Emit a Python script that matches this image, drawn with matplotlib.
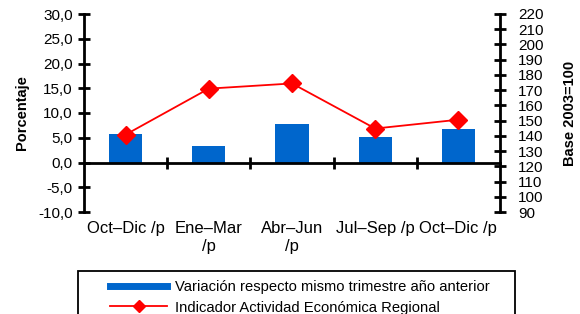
import matplotlib
matplotlib.use("Agg")
import matplotlib.pyplot as plt
from matplotlib.lines import Line2D
from matplotlib.patches import Rectangle
import numpy as np

plt.rcParams['font.family'] = ['Liberation Sans', 'DejaVu Sans']

categories = ["Oct\u2013Dic /p", "Ene\u2013Mar\n/p", "Abr\u2013Jun\n/p", "Jul\u2013Sep /p", "Oct\u2013Dic /p"]
variacion = [5.8, 3.4, 7.8, 5.2, 6.8]
indicador = [140.8, 171.0, 174.4, 144.8, 150.6]
left_ticks = [-10, -5, 0, 5, 10, 15, 20, 25, 30]
right_ticks = list(range(90, 221, 10))

W, H = 580, 314
fig = plt.figure(figsize=(W / 100, H / 100), dpi=100)
ax = fig.add_axes([84 / W, 1 - 212 / H, (500 - 84) / W, (212 - 14) / H])
x = np.arange(len(categories))

blue = '#0066CC'
red = '#FF0000'
ax.bar(x, variacion, width=0.4, color=blue, zorder=2)
ax.set_xlim(-0.5, len(categories) - 0.5)
ax.set_ylim(-10, 30)
ax.set_yticks(left_ticks)
ax.set_yticklabels([f"{v:.1f}".replace('.', ',') for v in left_ticks], fontsize=11)
ax.spines['top'].set_visible(False)
ax.spines['right'].set_visible(False)
ax.spines['left'].set_linewidth(2)
ax.spines['bottom'].set_position(('data', 0))
ax.spines['bottom'].set_linewidth(2)
ax.set_xticks(np.arange(0.5, len(categories) - 1, 1.0))
ax.set_xticklabels([])
ax.tick_params(axis='x', direction='inout', length=8, width=2)
ax.tick_params(axis='y', direction='inout', length=8, width=2, pad=4)
ax.set_ylabel('Porcentaje', fontsize=10.5, fontweight='bold', labelpad=7)
ax.patch.set_alpha(0)

for xi, lab in zip(x, categories):
    ax.text(xi, -11.8, lab, ha='center', va='top', fontsize=12,
            transform=ax.transData, linespacing=1.25)

ax2 = ax.twinx()
ax2.plot(x, indicador, color=red, lw=1.3, marker='D', markersize=9, zorder=3)
ax2.set_ylim(90, 220)
ax2.set_yticks(right_ticks)
ax2.set_yticklabels([str(v) for v in right_ticks], fontsize=11)
for s in ['top', 'left', 'bottom']:
    ax2.spines[s].set_visible(False)
ax2.spines['right'].set_linewidth(2)
ax2.tick_params(axis='y', direction='inout', length=8, width=2, pad=9)
ax2.set_ylabel('Base 2003=100', fontsize=10.5, fontweight='bold', labelpad=14)

handles = [Line2D([], [], color=blue, lw=5),
           Line2D([], [], color=red, lw=1.3, marker='D', markersize=6)]
labels = ['Variación respecto mismo trimestre año anterior',
          'Indicador Actividad Económica Regional']
fig.legend(handles, labels, loc='upper left', bbox_to_anchor=(110 / W, 1 - 280 / H),
           frameon=False, fontsize=10.6, handlelength=3.9, handletextpad=0.5,
           labelspacing=0.45, borderaxespad=0, borderpad=0)
fig.patches.append(Rectangle((78 / W, -0.2), (515 - 78) / W, 0.2 + (314 - 271) / H,
                             transform=fig.transFigure, fill=False, ec='black', lw=1.3))

fig.savefig('out.png', dpi=100)
